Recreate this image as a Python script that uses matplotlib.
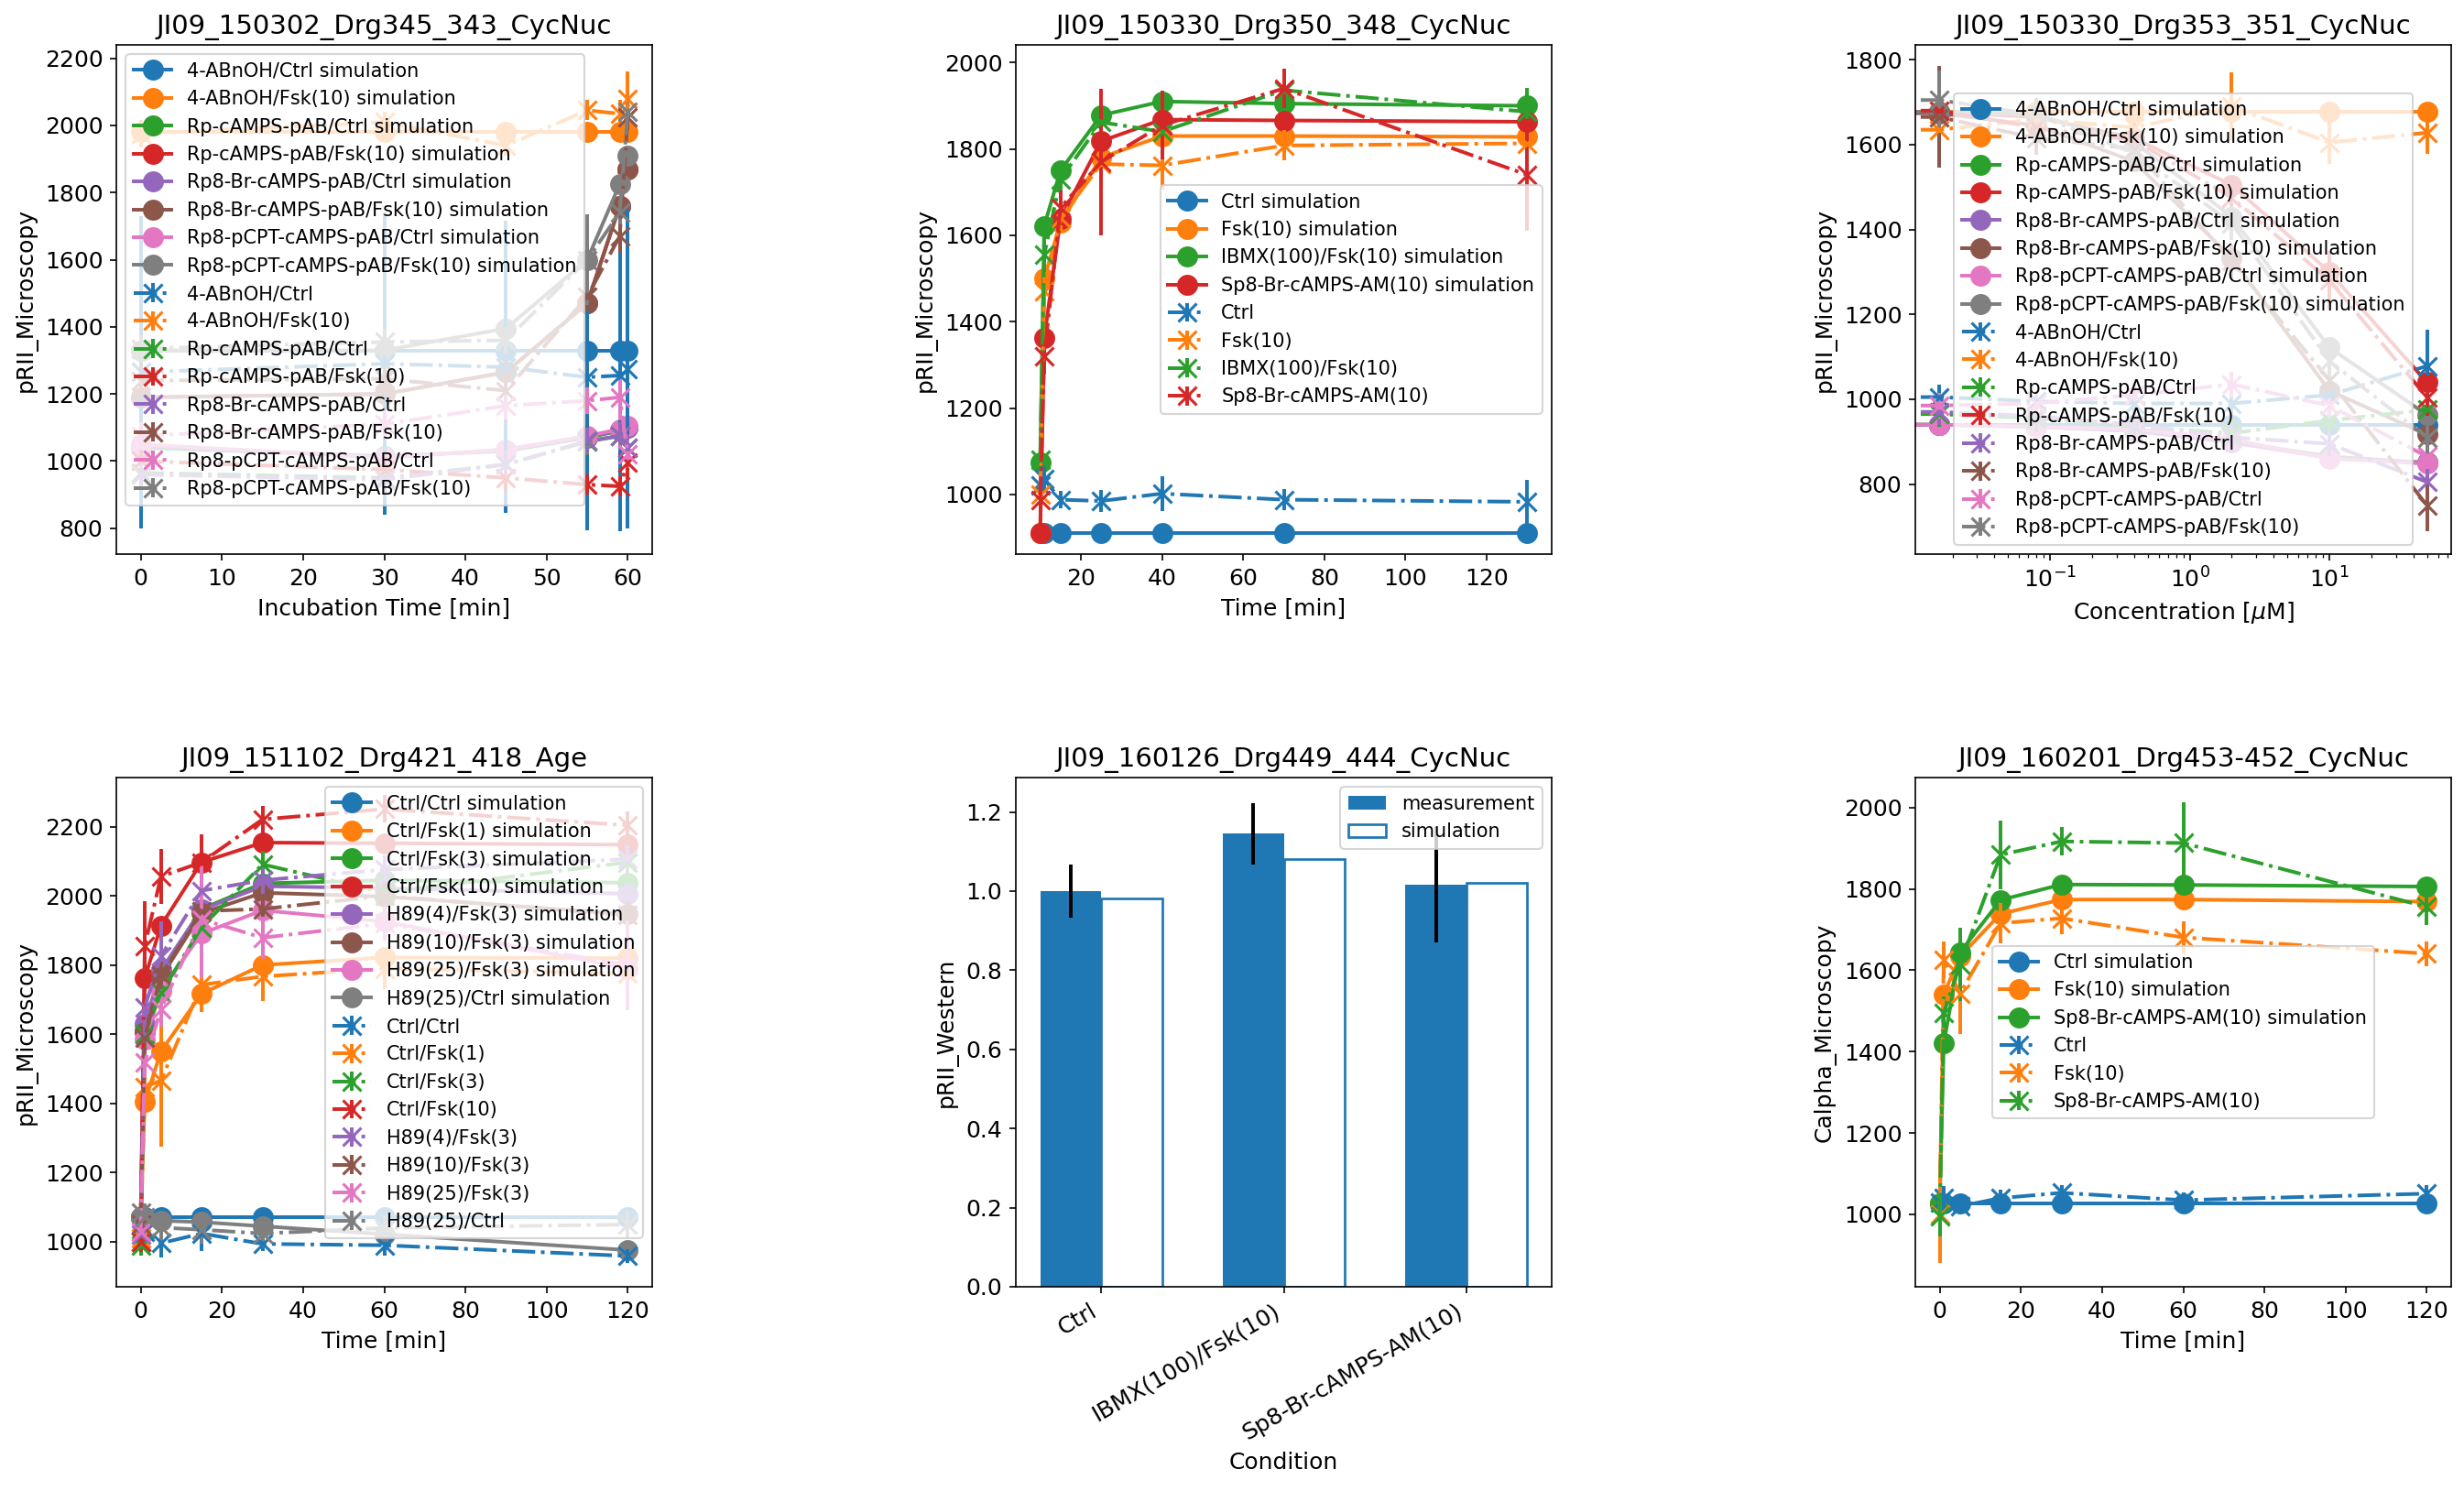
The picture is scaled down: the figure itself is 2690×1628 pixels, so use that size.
import matplotlib
matplotlib.use('Agg')
import matplotlib.pyplot as plt

# ---------------- data ----------------
# Panel 1
p1_title = 'JI09_150302_Drg345_343_CycNuc'
p1_x = [0, 30, 45, 55, 59, 60]
p1_names = ['4-ABnOH/Ctrl', '4-ABnOH/Fsk(10)', 'Rp-cAMPS-pAB/Ctrl', 'Rp-cAMPS-pAB/Fsk(10)',
            'Rp8-Br-cAMPS-pAB/Ctrl', 'Rp8-Br-cAMPS-pAB/Fsk(10)',
            'Rp8-pCPT-cAMPS-pAB/Ctrl', 'Rp8-pCPT-cAMPS-pAB/Fsk(10)']
p1_sim = [
    [1330, 1330, 1330, 1330, 1330, 1330],
    [1980, 1980, 1980, 1980, 1980, 1980],
    [1040, 1015, 1030, 1070, 1090, 1100],
    [1190, 1200, 1265, 1470, 1760, 1870],
    [1045, 1012, 1032, 1072, 1092, 1100],
    [1190, 1200, 1265, 1470, 1760, 1870],
    [1050, 1010, 1035, 1075, 1095, 1105],
    [1330, 1330, 1395, 1600, 1825, 1910],
]
p1_dat = [
    [1265, 1290, 1280, 1250, 1255, 1275],
    [1975, 2010, 1940, 2045, 2035, 2080],
    [965, 950, 990, 1058, 1075, 1040],
    [1000, 975, 950, 930, 925, 995],
    [960, 945, 990, 1060, 1075, 1040],
    [1240, 1245, 1210, 1490, 1670, 2025],
    [1075, 1110, 1165, 1180, 1190, 1020],
    [1335, 1355, 1360, 1600, 1740, 2040],
]
p1_err = [
    [465, 450, 435, 455, 465, 475],
    [40, 30, 30, 30, 40, 80],
    [40, 40, 40, 40, 40, 40],
    [40, 40, 40, 30, 30, 50],
    [40, 40, 40, 40, 40, 40],
    [50, 50, 90, 40, 50, 40],
    [40, 40, 40, 40, 70, 40],
    [40, 40, 40, 135, 40, 40],
]

# Panel 2
p2_title = 'JI09_150330_Drg350_348_CycNuc'
p2_x = [10, 11, 15, 25, 40, 70, 130]
p2_names = ['Ctrl', 'Fsk(10)', 'IBMX(100)/Fsk(10)', 'Sp8-Br-cAMPS-AM(10)']
p2_sim = [
    [910, 910, 910, 910, 910, 910, 910],
    [910, 1500, 1630, 1780, 1830, 1830, 1828],
    [1073, 1622, 1750, 1878, 1910, 1905, 1900],
    [910, 1362, 1638, 1818, 1868, 1866, 1863],
]
p2_dat = [
    [1020, 1035, 988, 985, 1002, 988, 983],
    [1000, 1470, 1640, 1765, 1762, 1808, 1813],
    [1080, 1555, 1730, 1862, 1840, 1936, 1886],
    [988, 1320, 1664, 1770, 1855, 1940, 1740],
]
p2_err = [
    [30, 30, 20, 25, 40, 25, 50],
    [30, 40, 30, 40, 55, 35, 30],
    [30, 40, 30, 30, 30, 30, 55],
    [30, 40, 40, 170, 80, 45, 130],
]

# Panel 3
p3_title = 'JI09_150330_Drg353_351_CycNuc'
p3_x = [0, 0.016, 0.08, 0.4, 2, 10, 50]
p3_names = p1_names
p3_sim = [
    [940, 940, 940, 940, 940, 940, 940],
    [1678, 1678, 1678, 1678, 1678, 1678, 1678],
    [940, 940, 935, 925, 900, 865, 850],
    [1678, 1676, 1665, 1615, 1505, 1300, 1040],
    [940, 940, 935, 925, 898, 862, 850],
    [1678, 1674, 1645, 1560, 1333, 1020, 917],
    [940, 940, 935, 930, 905, 860, 848],
    [1678, 1677, 1670, 1605, 1430, 1122, 963],
]
p3_dat = [
    [1005, 1005, 995, 990, 990, 1010, 1078],
    [1635, 1635, 1660, 1640, 1690, 1605, 1628],
    [965, 965, 955, 935, 920, 950, 975],
    [1680, 1680, 1640, 1610, 1475, 1280, 1005],
    [970, 970, 960, 940, 910, 895, 805],
    [1665, 1665, 1615, 1590, 1325, 1045, 750],
    [985, 985, 990, 1010, 1035, 985, 865],
    [1705, 1705, 1670, 1580, 1415, 1090, 910],
]
p3_err = [
    [30, 30, 25, 25, 30, 30, 85],
    [50, 50, 40, 40, 80, 50, 50],
    [30, 30, 30, 30, 30, 30, 30],
    [40, 40, 40, 40, 40, 70, 50],
    [30, 30, 30, 30, 30, 30, 30],
    [120, 120, 40, 40, 40, 40, 60],
    [30, 30, 30, 30, 30, 30, 30],
    [70, 70, 40, 40, 40, 40, 50],
]

# Panel 4
p4_title = 'JI09_151102_Drg421_418_Age'
p4_x = [0, 1, 5, 15, 30, 60, 120]
p4_names = ['Ctrl/Ctrl', 'Ctrl/Fsk(1)', 'Ctrl/Fsk(3)', 'Ctrl/Fsk(10)',
            'H89(4)/Fsk(3)', 'H89(10)/Fsk(3)', 'H89(25)/Fsk(3)', 'H89(25)/Ctrl']
p4_sim = [
    [1072, 1072, 1072, 1072, 1072, 1072, 1072],
    [1072, 1404, 1551, 1717, 1800, 1822, 1820],
    [1072, 1610, 1779, 1962, 2036, 2045, 2038],
    [1072, 1762, 1914, 2097, 2154, 2152, 2148],
    [1072, 1630, 1785, 1960, 2028, 2022, 2006],
    [1072, 1605, 1765, 1950, 2009, 1998, 1947],
    [1072, 1585, 1726, 1891, 1958, 1926, 1790],
    [1072, 1068, 1061, 1057, 1045, 1022, 976],
]
p4_dat = [
    [1000, 1030, 996, 1024, 994, 990, 959],
    [1010, 1448, 1466, 1743, 1767, 1790, 1775],
    [990, 1602, 1720, 1909, 2091, 2010, 2097],
    [1000, 1855, 2056, 2097, 2221, 2251, 2204],
    [1020, 1678, 1826, 2015, 2045, 2076, 2106],
    [1050, 1590, 1770, 1956, 1962, 2000, 1944],
    [1030, 1519, 1673, 1932, 1879, 1920, 1800],
    [1085, 1070, 1041, 1035, 1024, 1040, 1050],
]
p4_err = [
    [30, 30, 40, 50, 20, 30, 20],
    [30, 60, 190, 80, 70, 60, 100],
    [30, 40, 40, 50, 40, 40, 40],
    [30, 130, 80, 80, 40, 40, 40],
    [30, 40, 100, 40, 40, 40, 40],
    [40, 40, 40, 40, 40, 40, 40],
    [30, 40, 50, 170, 60, 50, 130],
    [40, 40, 40, 40, 40, 40, 40],
]

# Panel 5 (bars)
p5_title = 'JI09_160126_Drg449_444_CycNuc'
p5_cond = ['Ctrl', 'IBMX(100)/Fsk(10)', 'Sp8-Br-cAMPS-AM(10)']
p5_meas = [1.000, 1.145, 1.017]
p5_err = [0.066, 0.078, 0.146]
p5_sim = [0.982, 1.080, 1.020]

# Panel 6
p6_title = 'JI09_160201_Drg453-452_CycNuc'
p6_x = [0, 1, 5, 15, 30, 60, 120]
p6_names = ['Ctrl', 'Fsk(10)', 'Sp8-Br-cAMPS-AM(10)']
p6_sim = [
    [1026, 1026, 1026, 1026, 1026, 1026, 1026],
    [1026, 1540, 1634, 1739, 1774, 1774, 1769],
    [1026, 1420, 1644, 1773, 1811, 1810, 1806],
]
p6_dat = [
    [1030, 1040, 1020, 1040, 1053, 1035, 1051],
    [1000, 1626, 1543, 1716, 1728, 1681, 1641],
    [996, 1495, 1615, 1884, 1917, 1913, 1756],
]
p6_err = [
    [30, 30, 20, 20, 20, 20, 20],
    [120, 45, 100, 50, 40, 40, 30],
    [50, 40, 90, 85, 35, 100, 45],
]

# ---------------- figure ----------------
plt.rcParams['xtick.labelsize'] = 12
plt.rcParams['ytick.labelsize'] = 12
plt.rcParams['axes.labelsize'] = 12
plt.rcParams['axes.titlesize'] = 14
plt.rcParams['legend.fontsize'] = 10

W, H = 2690, 1628
DPI = 150
fig = plt.figure(figsize=(W / DPI, H / DPI), dpi=DPI)
COLORS = plt.rcParams['axes.prop_cycle'].by_key()['color']
AX_W, AX_H = 585, 556
LW = 1.9


def add_ax(left, top):
    return fig.add_axes([left / W, 1 - (top + AX_H) / H, AX_W / W, AX_H / H])


def timecourse(ax, x, names, sims, dats, errs, title, xlabel, ylabel, loc, logx=False):
    if logx:
        ax.set_xscale('log')
    for i, (n, s) in enumerate(zip(names, sims)):
        ax.plot(x, s, 'o-', color=COLORS[i], ms=10, lw=LW, label=f'{n} simulation')
    for i, (n, d, e) in enumerate(zip(names, dats, errs)):
        ax.errorbar(x, d, yerr=e, fmt='x-.', color=COLORS[i], ms=10, lw=LW,
                    mew=1.5, label=n)
    ax.set_title(title)
    ax.set_xlabel(xlabel)
    ax.set_ylabel(ylabel)
    ax.legend(loc=loc)


ax1 = add_ax(127, 49)
timecourse(ax1, p1_x, p1_names, p1_sim, p1_dat, p1_err, p1_title,
           'Incubation Time [min]', 'pRII_Microscopy', 'upper left')
ax1.set_xlim(-3, 63)
ax1.set_ylim(723, 2240)

ax2 = add_ax(1109, 49)
timecourse(ax2, p2_x, p2_names, p2_sim, p2_dat, p2_err, p2_title,
           'Time [min]', 'pRII_Microscopy', 'center right')
ax2.set_xlim(4, 136)
ax2.set_ylim(862, 2041)

ax3 = add_ax(2091, 49)
timecourse(ax3, p3_x, p3_names, p3_sim, p3_dat, p3_err, p3_title,
           r'Concentration [$\mu$M]', 'pRII_Microscopy', 'lower center', logx=True)
ax3.set_xlim(0.01084, 74.6)
ax3.set_ylim(635, 1835)

ax4 = add_ax(127, 849)
timecourse(ax4, p4_x, p4_names, p4_sim, p4_dat, p4_err, p4_title,
           'Time [min]', 'pRII_Microscopy', 'upper right')
ax4.set_xlim(-6, 126)
ax4.set_ylim(870, 2342)

ax5 = add_ax(1109, 849)
bw = 1 / 3
pos = list(range(len(p5_cond)))
ax5.bar([p - bw / 2 for p in pos], p5_meas, bw, yerr=p5_err, color=COLORS[0],
        error_kw=dict(ecolor='black', lw=LW), label='measurement')
ax5.bar([p + bw / 2 for p in pos], p5_sim, bw, facecolor='white', edgecolor=COLORS[0],
        lw=1.3, label='simulation')
ax5.set_xticks(pos)
ax5.set_xticklabels(p5_cond, rotation=30, ha='right')
ax5.set_xlim(-0.467, 2.467)
ax5.set_ylim(0, 1.287)
ax5.set_title(p5_title)
ax5.set_xlabel('Condition')
ax5.set_ylabel('pRII_Western')
ax5.legend(loc='upper right')

ax6 = add_ax(2091, 849)
timecourse(ax6, p6_x, p6_names, p6_sim, p6_dat, p6_err, p6_title,
           'Time [min]', 'Calpha_Microscopy', 'center')
ax6.set_xlim(-6, 126)
ax6.set_ylim(822, 2074)

fig.savefig('out.png', dpi=DPI)
